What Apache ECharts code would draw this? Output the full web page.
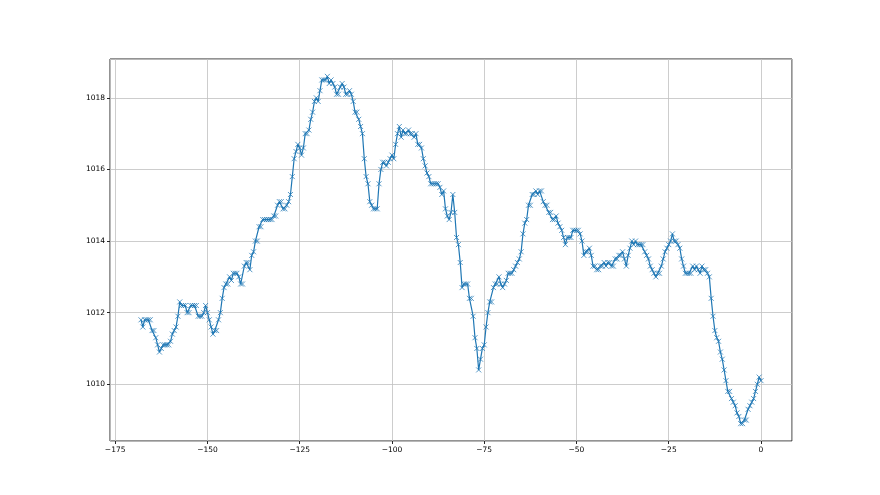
<!DOCTYPE html>
<html>
<head>
<meta charset="utf-8">
<script src="https://cdn.jsdelivr.net/npm/echarts@6/dist/echarts.min.js"></script>
<style>
  html, body { margin: 0; padding: 0; background: #fff; }
  #chart { width: 880px; height: 495px; }
</style>
</head>
<body>
<div id="chart"></div>
<script>
// hours relative to now, one reading every half hour
const startHour = -168
const stepHours = 0.5

// pressure readings (hPa)
const pressure = [
  1011.8, 1011.6, 1011.8, 1011.8, 1011.8, 1011.8, 1011.5, 1011.5, 1011.3, 1011.1,
  1010.9, 1011.0, 1011.1, 1011.1, 1011.1, 1011.1, 1011.2, 1011.4, 1011.5, 1011.6,
  1011.9, 1012.3, 1012.2, 1012.2, 1012.2, 1012.0, 1012.0, 1012.2, 1012.2, 1012.2,
  1012.2, 1011.9, 1011.9, 1011.9, 1012.0, 1012.2, 1012.0, 1011.8, 1011.6, 1011.4,
  1011.5, 1011.5, 1011.8, 1012.0, 1012.4, 1012.7, 1012.8, 1012.8, 1013.0, 1012.9,
  1013.1, 1013.1, 1013.1, 1013.0, 1012.8, 1012.8, 1013.3, 1013.4, 1013.4, 1013.2,
  1013.6, 1013.7, 1014.0, 1014.0, 1014.4, 1014.4, 1014.6, 1014.6, 1014.6, 1014.6,
  1014.6, 1014.6, 1014.7, 1014.7, 1015.0, 1015.1, 1015.1, 1014.9, 1014.9, 1015.0,
  1015.1, 1015.3, 1015.8, 1016.3, 1016.5, 1016.7, 1016.6, 1016.4, 1016.6, 1017.0,
  1017.0, 1017.1, 1017.4, 1017.6, 1017.9, 1018.0, 1017.9, 1018.2, 1018.5, 1018.5,
  1018.5, 1018.6, 1018.4, 1018.5, 1018.4, 1018.3, 1018.1, 1018.1, 1018.3, 1018.4,
  1018.3, 1018.1, 1018.1, 1018.2, 1018.1, 1017.9, 1017.6, 1017.6, 1017.4, 1017.2,
  1017.0, 1016.3, 1015.8, 1015.6, 1015.1, 1015.0, 1014.9, 1014.9, 1014.9, 1015.6,
  1016.0, 1016.2, 1016.2, 1016.1, 1016.2, 1016.3, 1016.4, 1016.3, 1016.7, 1017.0,
  1017.2, 1016.9, 1017.1, 1017.0, 1017.0, 1017.1, 1017.0, 1017.0, 1016.9, 1017.0,
  1016.7, 1016.7, 1016.6, 1016.3, 1016.1, 1015.9, 1015.8, 1015.6, 1015.6, 1015.6,
  1015.6, 1015.6, 1015.5, 1015.3, 1015.4, 1014.9, 1014.7, 1014.6, 1014.8, 1015.3,
  1014.8, 1014.1, 1013.9, 1013.4, 1012.7, 1012.8, 1012.8, 1012.8, 1012.4, 1012.4,
  1011.9, 1011.3, 1011.0, 1010.4, 1010.7, 1011.0, 1011.1, 1011.6, 1012.0, 1012.3,
  1012.3, 1012.7, 1012.8, 1012.8, 1013.0, 1012.8, 1012.7, 1012.8, 1012.9, 1013.1,
  1013.1, 1013.1, 1013.2, 1013.3, 1013.4, 1013.5, 1013.7, 1014.2, 1014.5, 1014.6,
  1015.0, 1015.0, 1015.3, 1015.3, 1015.4, 1015.3, 1015.4, 1015.4, 1015.1, 1015.0,
  1015.0, 1014.8, 1014.8, 1014.6, 1014.6, 1014.7, 1014.5, 1014.4, 1014.3, 1014.1,
  1013.9, 1014.1, 1014.1, 1014.1, 1014.3, 1014.3, 1014.3, 1014.3, 1014.2, 1014.0,
  1013.6, 1013.7, 1013.7, 1013.8, 1013.6, 1013.3, 1013.3, 1013.2, 1013.2, 1013.3,
  1013.3, 1013.4, 1013.3, 1013.4, 1013.4, 1013.3, 1013.3, 1013.5, 1013.5, 1013.6,
  1013.6, 1013.7, 1013.5, 1013.3, 1013.6, 1013.8, 1014.0, 1013.9, 1014.0, 1013.9,
  1013.9, 1013.9, 1013.9, 1013.7, 1013.6, 1013.5, 1013.3, 1013.2, 1013.1, 1013.0,
  1013.1, 1013.1, 1013.3, 1013.5, 1013.7, 1013.8, 1013.9, 1014.0, 1014.2, 1014.0,
  1014.0, 1013.9, 1013.8, 1013.5, 1013.3, 1013.1, 1013.1, 1013.1, 1013.1, 1013.3,
  1013.2, 1013.3, 1013.2, 1013.1, 1013.3, 1013.2, 1013.2, 1013.1, 1013.0, 1012.4,
  1011.9, 1011.5, 1011.3, 1011.2, 1010.9, 1010.7, 1010.4, 1010.1, 1009.8, 1009.8,
  1009.6, 1009.5, 1009.4, 1009.2, 1009.1, 1008.9, 1008.9, 1009.0, 1009.0, 1009.3,
  1009.4, 1009.5, 1009.6, 1009.8, 1010.0, 1010.2, 1010.1
]

// axis limits / ticks (matplotlib style 5% margins)
const xMin = -176.4, xMax = 8.4, xStep = 25
const yMin = 1008.415, yMax = 1019.085, yStep = 2

const points = pressure.map((p, i) => [startHour + i * stepHours, p])

const minus = v => String(v).replace('-', '\u2212')

const chart = echarts.init(document.getElementById('chart'), null, { renderer: 'canvas' })

const labelStyle = {
  color: '#000',
  fontFamily: 'DejaVu Sans',
  fontSize: 7.5
}

chart.setOption({
  animation: false,
  backgroundColor: '#fff',
  grid: {
    left: 110,
    right: 88,
    top: 59,
    bottom: 54,
    show: true,
    borderColor: '#262626',
    borderWidth: 1,
    backgroundColor: 'transparent'
  },
  xAxis: {
    type: 'value',
    position: 'bottom',
    min: xMin,
    max: xMax,
    minInterval: xStep,
    maxInterval: xStep,
    axisLine: { show: false, onZero: false },
    axisTick: { show: true, length: 3, lineStyle: { color: '#262626' } },
    axisLabel: Object.assign({
      margin: 5,
      showMinLabel: false,
      showMaxLabel: false,
      formatter: v => (v % xStep === 0 ? minus(v) : '')
    }, labelStyle),
    splitLine: { show: true, lineStyle: { color: '#c0c0c0', width: 0.8 } }
  },
  yAxis: {
    type: 'value',
    position: 'left',
    min: yMin,
    max: yMax,
    minInterval: yStep,
    maxInterval: yStep,
    axisLine: { show: false, onZero: false },
    axisTick: { show: true, length: 3, lineStyle: { color: '#262626' } },
    axisLabel: Object.assign({
      margin: 5,
      showMinLabel: false,
      showMaxLabel: false,
      formatter: v => (Math.abs(v % yStep) < 1e-6 ? String(v) : '')
    }, labelStyle),
    splitLine: { show: true, lineStyle: { color: '#c0c0c0', width: 0.8 } }
  },
  series: [{
    type: 'line',
    data: points,
    symbol: 'path://M0,0L10,10M10,0L0,10',
    symbolSize: 5,
    showAllSymbol: true,
    lineStyle: { color: '#1f77b4', width: 1.2 },
    itemStyle: { color: '#1f77b4', borderColor: '#1f77b4', borderWidth: 1, opacity: 0.75 },
    emphasis: { disabled: true },
    z: 3
  }]
})
</script>
</body>
</html>
